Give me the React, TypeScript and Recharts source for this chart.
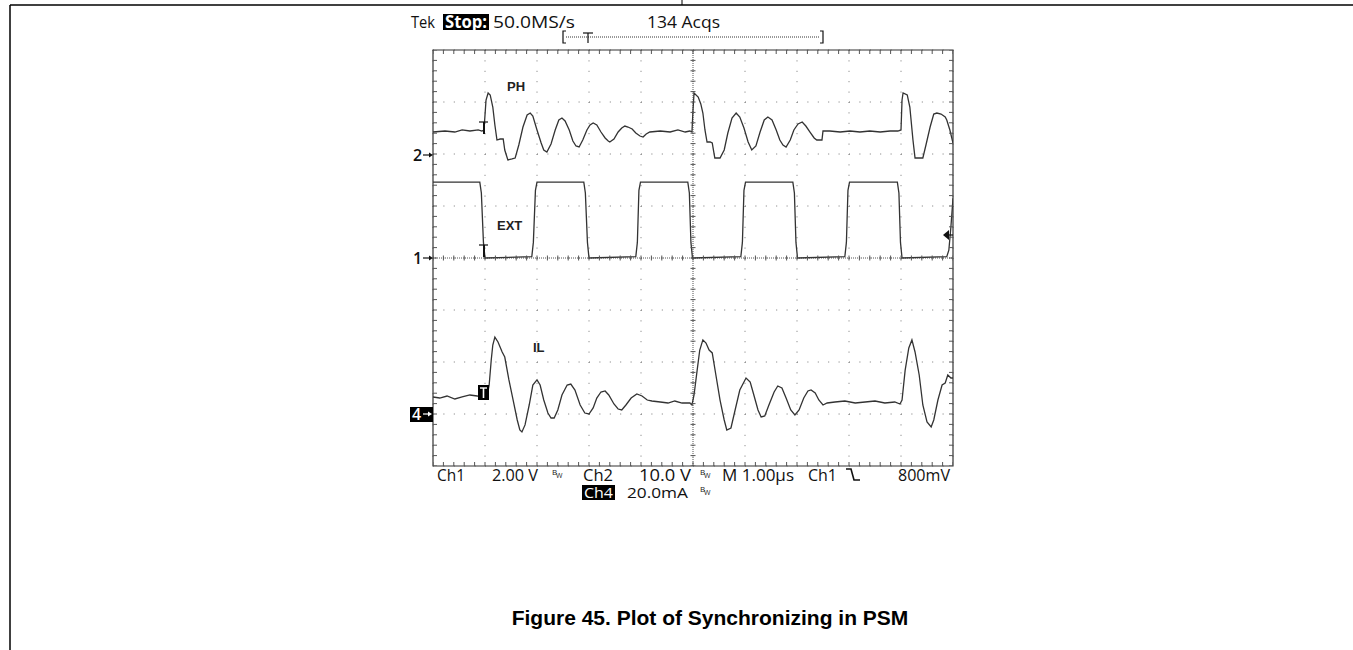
import React from "react";
import {
  ComposedChart,
  Line,
  Scatter,
  XAxis,
  YAxis,
  CartesianGrid,
  ReferenceLine,
  ReferenceArea,
} from "recharts";

// time in µs (1 µs/div), values in channel units
const phTime = [
  0, 0.23, 0.42, 0.56, 0.71, 0.87, 0.94, 0.98, 1.02, 1.06, 1.1, 1.15, 1.19, 1.23, 1.29, 1.35, 1.38, 1.44, 1.52, 1.58,
  1.65, 1.73, 1.81, 1.87, 1.92, 2.0, 2.08, 2.13, 2.19, 2.27, 2.35, 2.42, 2.48, 2.54, 2.62, 2.69, 2.75, 2.81, 2.88,
  2.96, 3.02, 3.08, 3.15, 3.23, 3.31, 3.37, 3.4, 3.48, 3.56, 3.63, 3.69, 3.75, 3.83, 3.9, 3.98, 4.04, 4.1, 4.17, 4.37,
  4.56, 4.71, 4.85, 4.94, 4.98, 5.0, 5.02, 5.1, 5.15, 5.19, 5.23, 5.27, 5.33, 5.37, 5.4, 5.42, 5.52, 5.6, 5.67, 5.75,
  5.83, 5.9, 5.98, 6.06, 6.13, 6.21, 6.29, 6.37, 6.44, 6.52, 6.6, 6.67, 6.73, 6.79, 6.87, 6.94, 7.02, 7.1, 7.17, 7.25,
  7.33, 7.38, 7.48, 7.5, 7.63, 7.83, 8.02, 8.21, 8.4, 8.6, 8.79, 8.94, 9.0, 9.02, 9.04, 9.12, 9.17, 9.23, 9.27, 9.35,
  9.42, 9.48, 9.56, 9.63, 9.69, 9.77, 9.85, 9.88, 9.94, 10,
];
const phVolts = [
  4.23, 4.42, 4.23, 4.62, 4.42, 4.62, 4.42, 4.62, 10.38, 11.73, 11.35, 9.04, 5.58, 2.69, 2.88, 2.88, 0.77, -1.15, -0.96,
  -0.77, 1.73, 5.19, 7.5, 7.88, 7.31, 4.62, 2.12, 0.77, 0.38, 1.92, 4.62, 6.54, 6.92, 6.35, 4.62, 2.5, 1.54, 1.35, 2.69,
  4.62, 5.58, 5.96, 5.58, 4.23, 3.08, 2.5, 2.31, 2.88, 4.23, 5.0, 5.38, 5.19, 4.81, 4.04, 3.46, 3.27, 3.85, 4.23, 4.42,
  4.23, 4.62, 4.23, 4.42, 4.23, 8.46, 11.73, 10.96, 9.62, 7.88, 4.62, 2.31, 2.31, 2.12, 0.38, -0.77, -0.77, 0.77, 4.04,
  6.92, 7.88, 7.12, 5.0, 2.31, 0.77, 1.54, 4.23, 6.54, 7.12, 6.54, 4.62, 2.69, 1.73, 1.35, 2.69, 4.62, 5.77, 6.15, 5.38,
  4.23, 3.08, 2.69, 2.69, 4.42, 4.42, 4.23, 4.42, 4.23, 4.42, 4.23, 4.42, 4.42, 4.62, 10.38, 11.73, 11.35, 9.04, 2.69,
  -0.77, -0.77, -0.77, 1.73, 5.19, 7.69, 7.88, 7.69, 7.12, 6.54, 4.62, 2.12,
];

const extTime = [
  0, 0.9, 0.93, 0.97, 1.0, 1.9, 1.93, 1.97, 2.0, 2.9, 2.93, 2.97, 3.0, 3.9, 3.93, 3.96, 3.99, 4.9, 4.93, 4.96, 4.99,
  5.92, 5.95, 5.98, 6.01, 6.92, 6.95, 6.98, 7.01, 7.92, 7.95, 7.98, 8.01, 8.93, 8.96, 8.99, 9.02, 9.88, 9.92, 9.96, 10,
];
const extVolts = [
  2.92, 2.92, 2.5, 0.6, 0, 0.05, 0.6, 2.6, 2.92, 2.92, 2.5, 0.6, 0, 0.05, 0.6, 2.6, 2.92, 2.92, 2.5, 0.6, 0, 0.05, 0.6,
  2.6, 2.92, 2.92, 2.5, 0.6, 0, 0.05, 0.6, 2.6, 2.92, 2.92, 2.5, 0.6, 0, 0.05, 0.3, 1.2, 2.3,
];

const ilTime = [
  0, 0.13, 0.27, 0.42, 0.56, 0.71, 0.85, 0.9, 0.98, 1.04, 1.08, 1.12, 1.15, 1.19, 1.25, 1.33, 1.38, 1.46, 1.54, 1.62,
  1.67, 1.71, 1.77, 1.85, 1.92, 2.0, 2.06, 2.13, 2.21, 2.27, 2.33, 2.4, 2.48, 2.58, 2.65, 2.73, 2.83, 2.92, 3.0, 3.08,
  3.15, 3.23, 3.31, 3.38, 3.48, 3.56, 3.63, 3.71, 3.81, 3.92, 4.02, 4.12, 4.21, 4.37, 4.52, 4.65, 4.79, 4.94, 4.98,
  5.02, 5.08, 5.13, 5.19, 5.25, 5.31, 5.37, 5.44, 5.52, 5.6, 5.65, 5.73, 5.81, 5.9, 6.02, 6.1, 6.17, 6.25, 6.31, 6.38,
  6.46, 6.56, 6.63, 6.71, 6.79, 6.88, 6.96, 7.04, 7.13, 7.21, 7.27, 7.35, 7.42, 7.5, 7.58, 7.73, 7.92, 8.12, 8.31, 8.5,
  8.69, 8.88, 8.98, 9.02, 9.08, 9.15, 9.21, 9.27, 9.35, 9.42, 9.5, 9.58, 9.63, 9.71, 9.79, 9.85, 9.9, 9.96, 10,
];
const ilMilliamps = [
  6.54, 6.15, 6.92, 5.77, 6.54, 7.31, 6.92, 6.54, 6.15, 6.92, 11.15, 20.77, 26.54, 29.6, 27.7, 23.85, 21.9, 13.1, 5.4,
  -2.3, -6.15, -6.9, -4.2, 3.46, 11.15, 13.1, 11.15, 5.38, 0.38, -1.54, -1.54, 1.54, 7.31, 11.15, 11.5, 9.23, 3.46,
  0.38, 0, 2.31, 6.15, 8.46, 8.85, 7.31, 3.85, 1.92, 1.54, 3.46, 6.15, 7.69, 6.92, 5.38, 5.0, 4.62, 4.23, 5.0, 4.23,
  4.23, 3.46, 7.31, 16.9, 24.6, 28.5, 27.3, 24.6, 23.5, 15.0, 5.38, -2.3, -6.15, -5.38, 1.54, 9.23, 13.85, 12.3, 7.31,
  1.54, -1.15, -0.77, 3.46, 8.46, 10.77, 10.0, 6.15, 1.54, -0.38, 1.54, 6.15, 8.85, 9.23, 8.08, 5.38, 3.46, 4.23, 4.62,
  5.0, 4.23, 4.62, 5.0, 4.23, 4.62, 3.85, 5.38, 16.9, 25.4, 28.5, 23.85, 15.0, 3.46, -3.08, -5.0, -2.3, 5.38, 11.15,
  11.9, 15.0, 13.85, 13.85,
];

// channel settings (ground marker position in divisions from the bottom)
const CH2_GROUND = 6;
const CH2_PER_DIV = 10;
const CH1_GROUND = 4;
const CH1_PER_DIV = 2;
const CH4_GROUND = 1;
const CH4_PER_DIV = 20;

const timeTicks = [0, 1, 2, 3, 4, 5, 6, 7, 8, 9, 10];
const divTicks = [0, 1, 2, 3, 4, 5, 6, 7, 8];

function toTrace(time: number[], values: number[], ground: number, perDiv: number) {
  return time.map((t, i) => ({ t, div: ground + values[i] / perDiv }));
}

const phData = toTrace(phTime, phVolts, CH2_GROUND, CH2_PER_DIV);
const extData = toTrace(extTime, extVolts, CH1_GROUND, CH1_PER_DIV);
const ilData = toTrace(ilTime, ilMilliamps, CH4_GROUND, CH4_PER_DIV);

// graticule minor ticks, 5 per division
const minorT = Array.from({ length: 51 }, (_, i) => i / 5);
const minorV = Array.from({ length: 41 }, (_, i) => i / 5);
const topTicks = minorT.map((t) => ({ t, div: 8 }));
const bottomTicks = minorT.map((t) => ({ t, div: 0 }));
const midHTicks = minorT.map((t) => ({ t, div: 4 }));
const leftTicks = minorV.map((div) => ({ t: 0, div }));
const rightTicks = minorV.map((div) => ({ t: 10, div }));
const midVTicks = minorV.map((div) => ({ t: 5, div }));

const GRAT = "#555";
const TRACE = "#333";

function tickShape(dx1: number, dy1: number, dx2: number, dy2: number) {
  return (props: any) => (
    <line
      x1={props.cx + dx1}
      y1={props.cy + dy1}
      x2={props.cx + dx2}
      y2={props.cy + dy2}
      stroke={GRAT}
      strokeWidth={1}
    />
  );
}

const tekFont = "'Open Sans', 'DejaVu Sans', sans-serif";
const labelFont = "'Liberation Sans', Arial, sans-serif";

function Bw({ x, y }: { x: number; y: number }) {
  return (
    <g fontFamily={tekFont} fill="#222">
      <text x={x} y={y - 3} fontSize={8}>B</text>
      <text x={x + 4} y={y} fontSize={7}>W</text>
    </g>
  );
}

function Overlay() {
  return (
    <svg
      width={1353}
      height={650}
      style={{ position: "absolute", left: 0, top: 0, pointerEvents: "none" }}
    >
      {/* page rules */}
      <line x1={10} y1={5} x2={1353} y2={5} stroke="#000" strokeWidth={1.5} />
      <line x1={10} y1={5} x2={10} y2={650} stroke="#000" strokeWidth={1.5} />
      <line x1={682} y1={0} x2={682} y2={5} stroke="#000" strokeWidth={1} />

      {/* scope header */}
      <g fontFamily={tekFont} fontSize={17} fill="#111" fontWeight={500}>
        <text x={411} y={28} textLength={24} lengthAdjust="spacingAndGlyphs">Tek</text>
        <rect x={443} y={14} width={46} height={16} fill="#000" />
        <text x={445} y={28} fill="#fff" fontWeight="bold" textLength={42} lengthAdjust="spacingAndGlyphs">Stop:</text>
        <text x={493} y={28} textLength={82} lengthAdjust="spacingAndGlyphs">50.0MS/s</text>
        <text x={647} y={28} textLength={73} lengthAdjust="spacingAndGlyphs">134 Acqs</text>
      </g>
      <path d="M566,31 H563 V43 H566" fill="none" stroke="#111" strokeWidth={1.2} />
      <path d="M820,31 H823 V43 H820" fill="none" stroke="#111" strokeWidth={1.2} />
      <line x1={566} y1={37} x2={820} y2={37} stroke="#333" strokeWidth={1} strokeDasharray="1 1" />
      <line x1={583} y1={33} x2={593} y2={33} stroke="#111" strokeWidth={1.2} />
      <line x1={588} y1={33} x2={588} y2={43} stroke="#111" strokeWidth={1.2} />

      {/* channel ground markers */}
      <g fontFamily={tekFont} fontSize={16} fill="#111" fontWeight={600}>
        <text x={413} y={161}>2</text>
        <text x={413} y={264}>1</text>
      </g>
      <line x1={423} y1={155} x2={430} y2={155} stroke="#111" strokeWidth={1.2} />
      <polygon points="429,152.5 433,155 429,157.5" fill="#111" />
      <line x1={423} y1={258} x2={430} y2={258} stroke="#111" strokeWidth={1.2} />
      <polygon points="429,255.5 433,258 429,260.5" fill="#111" />
      <rect x={410} y={407} width={23} height={15} fill="#000" />
      <text x={412} y={420} fontFamily={tekFont} fontSize={16} fontWeight={600} fill="#fff">4</text>
      <line x1={423} y1={414} x2={429} y2={414} stroke="#fff" strokeWidth={1.2} />
      <polygon points="428,411.5 432,414 428,416.5" fill="#fff" />

      {/* trigger markers */}
      <line x1={479} y1={122} x2={488} y2={122} stroke="#111" strokeWidth={1.2} />
      <line x1={484} y1={122} x2={484} y2={134} stroke="#111" strokeWidth={2} />
      <line x1={479} y1={245} x2={488} y2={245} stroke="#111" strokeWidth={1.2} />
      <line x1={484} y1={245} x2={484} y2={257} stroke="#111" strokeWidth={2} />
      <rect x={478} y={385} width={11} height={15} fill="#000" />
      <line x1={480} y1={388} x2={487} y2={388} stroke="#fff" strokeWidth={1.4} />
      <line x1={483.5} y1={388} x2={483.5} y2={398} stroke="#fff" strokeWidth={1.6} />
      <polygon points="943,235 949,230 949,240" fill="#111" />
      <line x1={949} y1={235} x2={953} y2={235} stroke="#111" strokeWidth={1.2} />

      {/* trace labels */}
      <g fontFamily={labelFont} fontSize={13} fontWeight="bold" fill="#222">
        <text x={507} y={91}>PH</text>
        <text x={497} y={230}>EXT</text>
        <text x={533} y={352}>IL</text>
      </g>

      {/* scope footer */}
      <g fontFamily={tekFont} fontSize={16} fill="#111" fontWeight={500}>
        <text x={437} y={481} textLength={28} lengthAdjust="spacingAndGlyphs">Ch1</text>
        <text x={492} y={481} textLength={46} lengthAdjust="spacingAndGlyphs">2.00 V</text>
        <text x={583} y={481} textLength={30} lengthAdjust="spacingAndGlyphs">Ch2</text>
        <text x={639} y={481} textLength={52} lengthAdjust="spacingAndGlyphs">10.0 V</text>
        <text x={722} y={481} textLength={72} lengthAdjust="spacingAndGlyphs">M 1.00µs</text>
        <text x={808} y={481} textLength={29} lengthAdjust="spacingAndGlyphs">Ch1</text>
        <text x={898} y={481} textLength={52} lengthAdjust="spacingAndGlyphs">800mV</text>
      </g>
      <rect x={582} y={485} width={33} height={15} fill="#000" />
      <g fontFamily={tekFont} fontSize={15} fill="#111" fontWeight={500}>
        <text x={584} y={498} fill="#fff" textLength={29} lengthAdjust="spacingAndGlyphs">Ch4</text>
        <text x={627} y={498} textLength={61} lengthAdjust="spacingAndGlyphs">20.0mA</text>
      </g>
      <path d="M846,469 H851 L854,480 H860" fill="none" stroke="#111" strokeWidth={1.6} />
      <Bw x={552} y={478} />
      <Bw x={700} y={478} />
      <Bw x={700} y={495} />

      {/* caption */}
      <text
        x={710}
        y={625}
        textAnchor="middle"
        fontFamily={labelFont}
        fontSize={21}
        fontWeight="bold"
        fill="#000"
      >
        Figure 45. Plot of Synchronizing in PSM
      </text>
    </svg>
  );
}

export default function App() {
  return (
    <div style={{ position: "absolute", left: 0, top: 0, width: 1353, height: 650, background: "#fff" }}>
      <div style={{ position: "absolute", left: 0, top: 0 }}>
        <ComposedChart width={1353} height={650} margin={{ top: 50, right: 400, bottom: 184, left: 433 }}>
          <XAxis type="number" dataKey="t" domain={[0, 10]} ticks={timeTicks} hide allowDataOverflow />
          <YAxis type="number" dataKey="div" domain={[0, 8]} ticks={divTicks} hide allowDataOverflow />
          <CartesianGrid stroke="#777" strokeWidth={1} strokeDasharray="1 9.4" />
          <ReferenceLine x={5} stroke={GRAT} strokeDasharray="1 1" />
          <ReferenceLine y={4} stroke={GRAT} strokeDasharray="1 1" />
          <ReferenceArea x1={0} x2={10} y1={0} y2={8} fill="none" stroke="#333" strokeWidth={1.2} />
          <Scatter data={topTicks} shape={tickShape(0, 0, 0, 4)} isAnimationActive={false} />
          <Scatter data={bottomTicks} shape={tickShape(0, 0, 0, -4)} isAnimationActive={false} />
          <Scatter data={midHTicks} shape={tickShape(0, -2.5, 0, 2.5)} isAnimationActive={false} />
          <Scatter data={leftTicks} shape={tickShape(0, 0, 4, 0)} isAnimationActive={false} />
          <Scatter data={rightTicks} shape={tickShape(0, 0, -4, 0)} isAnimationActive={false} />
          <Scatter data={midVTicks} shape={tickShape(-2.5, 0, 2.5, 0)} isAnimationActive={false} />
          <Line data={phData} dataKey="div" type="linear" stroke={TRACE} strokeWidth={1.3} dot={false} isAnimationActive={false} />
          <Line data={extData} dataKey="div" type="linear" stroke={TRACE} strokeWidth={1.3} dot={false} isAnimationActive={false} />
          <Line data={ilData} dataKey="div" type="linear" stroke={TRACE} strokeWidth={1.3} dot={false} isAnimationActive={false} />
        </ComposedChart>
      </div>
      <Overlay />
    </div>
  );
}
